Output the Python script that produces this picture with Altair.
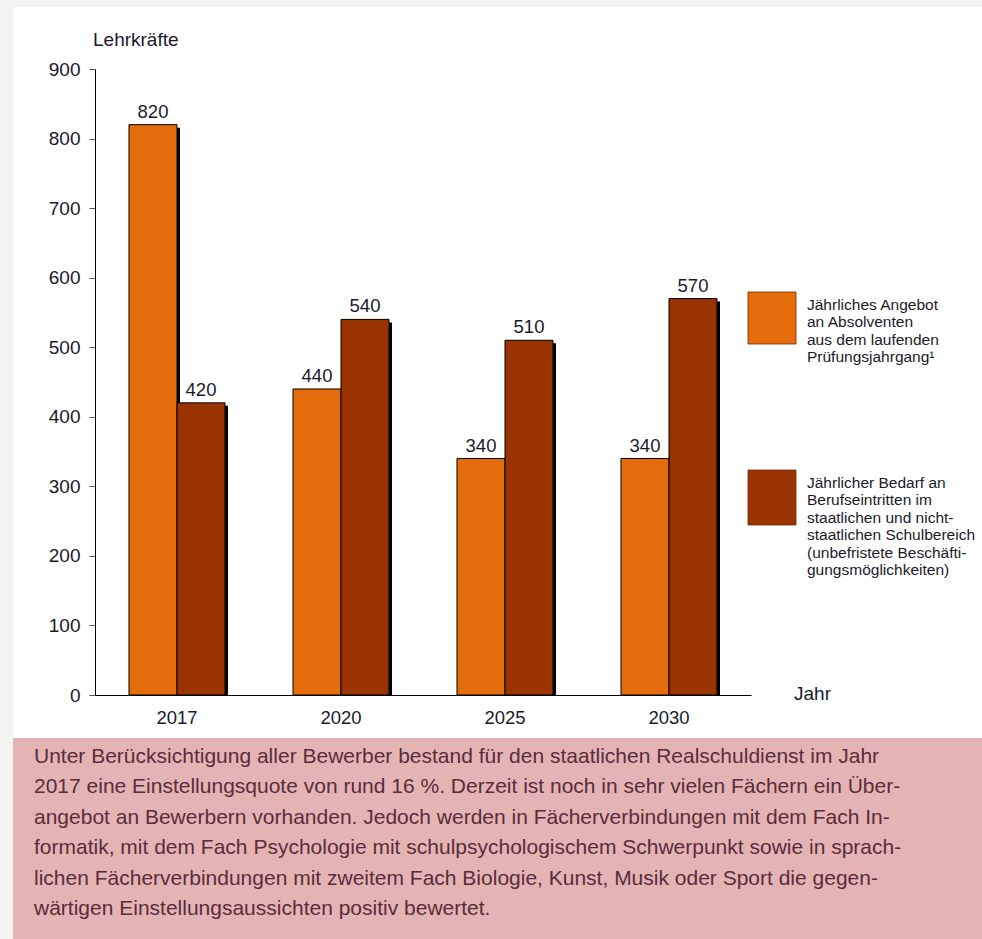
import altair as alt
import pandas as pd

# ---------------- data ----------------
years = ["2017", "2020", "2025", "2030"]
angebot = [820, 440, 340, 340]
bedarf = [420, 540, 510, 570]
series = ["Angebot", "Bedarf"]
colors = ["#E46C0A", "#993300"]

legend_labels = [
    ["Jährliches Angebot", "an Absolventen", "aus dem laufenden", "Prüfungsjahrgang¹"],
    ["Jährlicher Bedarf an", "Berufseintritten im", "staatlichen und nicht-",
     "staatlichen Schulbereich", "(unbefristete Beschäfti-", "gungsmöglichkeiten)"],
]

paragraph = [
    "Unter Berücksichtigung aller Bewerber bestand für den staatlichen Realschuldienst im Jahr",
    "2017 eine Einstellungsquote von rund 16 %. Derzeit ist noch in sehr vielen Fächern ein Über-",
    "angebot an Bewerbern vorhanden. Jedoch werden in Fächerverbindungen mit dem Fach In-",
    "formatik, mit dem Fach Psychologie mit schulpsychologischem Schwerpunkt sowie in sprach-",
    "lichen Fächerverbindungen mit zweitem Fach Biologie, Kunst, Musik oder Sport die gegen-",
    "wärtigen Einstellungsaussichten positiv bewertet.",
]

FONT = "Liberation Sans"
TXT = "#1a1a2a"

rows = []
for i, y in enumerate(years):
    rows.append({"year": y, "series": series[0], "value": angebot[i]})
    rows.append({"year": y, "series": series[1], "value": bedarf[i]})
df = pd.DataFrame(rows)

W, H = 656, 626
PL, PT = 95, 69

xscale = alt.Scale(domain=years, paddingInner=0.4146, paddingOuter=0.2073)
yscale = alt.Scale(domain=[0, 900], nice=False)
cscale = alt.Scale(domain=series, range=colors)

one = pd.DataFrame({"a": [0]})

white_bg = alt.Chart(one).mark_rect(color="white").encode(
    x=alt.value(-82), x2=alt.value(887), y=alt.value(-62), y2=alt.value(669))
pink_bg = alt.Chart(one).mark_rect(color="#E4B4B4").encode(
    x=alt.value(-82), x2=alt.value(887), y=alt.value(669), y2=alt.value(872))

xaxis = alt.Axis(title=None, ticks=False, labelAngle=0, labelPadding=13,
                 labelFontSize=18.5, labelColor=TXT, domainColor="#000", zindex=2)
yaxis = alt.Axis(title=None, values=list(range(0, 901, 100)), grid=False,
                 tickSize=6, tickColor="#555", labelPadding=9, labelFontSize=19,
                 labelColor=TXT, domainColor="#000", zindex=2)

# shadow: shifted 3 px right (own xOffset range) and ~3 px lower at the top
shadow = alt.Chart(df).transform_calculate(sv="datum.value - 4.3").mark_bar(color="black").encode(
    x=alt.X("year:N", scale=xscale, sort=years, axis=xaxis),
    xOffset=alt.XOffset("series:N", scale=alt.Scale(domain=series, range=[3, 99],
                                                    paddingInner=0, paddingOuter=0)),
    y=alt.Y("sv:Q", scale=yscale, axis=yaxis),
    y2=alt.datum(0),
)

bars = alt.Chart(df).mark_bar(stroke="black", strokeWidth=1).encode(
    x=alt.X("year:N", scale=xscale, sort=years, axis=xaxis),
    xOffset=alt.XOffset("series:N", scale=alt.Scale(domain=series, paddingInner=0, paddingOuter=0)),
    y=alt.Y("value:Q", scale=yscale, axis=yaxis),
    color=alt.Color("series:N", scale=cscale, legend=None),
)
labels = alt.Chart(df).mark_text(baseline="alphabetic", dy=-7, font=FONT, fontSize=18.5, color=TXT).encode(
    x=alt.X("year:N", scale=xscale, sort=years, axis=xaxis),
    xOffset=alt.XOffset("series:N", scale=alt.Scale(domain=series, paddingInner=0, paddingOuter=0)),
    y=alt.Y("value:Q", scale=yscale, axis=yaxis),
    text="value:Q",
)
bar_group = alt.layer(bars, labels)

# legend built from the series lists
legend_layers = []
for i, s in enumerate(series):
    top = 223 + i * 178
    legend_layers.append(
        alt.Chart(one).mark_rect(color=colors[i], stroke="#7a2a00", strokeWidth=0.8).encode(
            x=alt.value(653), x2=alt.value(701), y=alt.value(top), y2=alt.value(top + 52 + i * 3)))
    legend_layers.append(
        alt.Chart(one).mark_text(align="left", baseline="top", lineBreak="\n", lineHeight=17.4,
                                 font=FONT, fontSize=15.5, color=TXT).encode(
            x=alt.value(712), y=alt.value(top + 6), text=alt.value("\n".join(legend_labels[i]))))

ytitle = alt.Chart(one).mark_text(align="left", baseline="middle", font=FONT, fontSize=19,
                                  color=TXT).encode(
    x=alt.value(-2), y=alt.value(-29), text=alt.value("Lehrkräfte"))
xtitle = alt.Chart(one).mark_text(align="left", baseline="middle", font=FONT, fontSize=19,
                                  color=TXT).encode(
    x=alt.value(699), y=alt.value(625), text=alt.value("Jahr"))

para = alt.Chart(one).mark_text(align="left", baseline="top", lineBreak="\n", lineHeight=30.4,
                                font=FONT, fontSize=21, color="#5a2c3a").encode(
    x=alt.value(-61), y=alt.value(677), text=alt.value("\n".join(paragraph)))

chart = alt.layer(
    white_bg, pink_bg, shadow, bar_group, *legend_layers, ytitle, xtitle, para
).resolve_scale(xOffset="independent").properties(
    width=W, height=H,
    padding={"left": PL, "top": PT, "right": 982 - PL - W, "bottom": 939 - PT - H},
    autosize=alt.AutoSizeParams(type="none"),
    background="#F3F3F3",
).configure_view(stroke=None).configure_axis(labelFont=FONT)

chart.save("out.html", embed_options={"renderer": "svg", "actions": False})
